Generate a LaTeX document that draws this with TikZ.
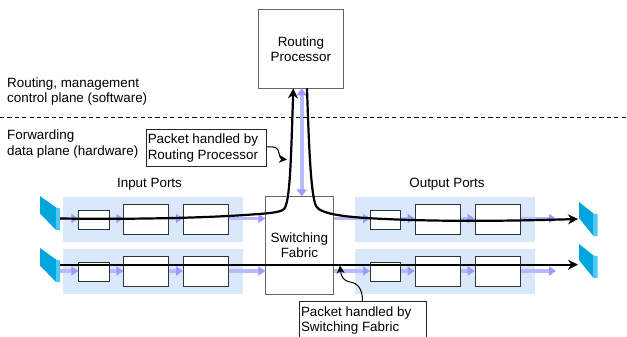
\documentclass[tikz,border=0pt]{standalone}
\usepackage{fontspec}
\setmainfont{Liberation Sans}
\usetikzlibrary{arrows.meta,positioning}
\definecolor{panelblue}{HTML}{DAE8FC}
\definecolor{flowblue}{HTML}{B8BAFF}
\definecolor{flowhead}{HTML}{9A9CFF}
\definecolor{portdark}{HTML}{00A5DE}
\definecolor{portlight}{HTML}{4FC8F5}
\tikzset{
  x=1pt,y=-1pt,
  every node/.style={font=\fontsize{13.4}{15.4}\selectfont,align=center,inner sep=0pt},
  panel/.style={fill=panelblue,draw=none,anchor=north west},
  cell/.style={draw=black!80,line width=0.9pt,fill=white,anchor=north west},
  bigbox/.style={draw=black!60,line width=0.8pt,fill=white,anchor=north west},
  callout/.style={draw=black!85,line width=0.8pt,fill=white,anchor=north west,align=left},
  flow/.style={draw=flowblue,line width=3.4pt,-{Triangle[length=7pt,width=9pt,color=flowhead]}},
  flowboth/.style={draw=flowblue,line width=4.4pt,{Triangle[length=7pt,width=10pt,color=flowhead]}-{Triangle[length=7pt,width=10pt,color=flowhead]}},
  packet/.style={draw=black,line width=2.2pt},
  packethin/.style={draw=black,line width=1.9pt},
  tip/.style={-{Stealth[length=10pt,width=10pt]}},
  lead/.style={draw=black,line width=1pt,-{Stealth[length=8pt,width=8pt]}},
  txt/.style={anchor=west,align=left}
}
\newcommand{\cellbox}[5]{\node[cell,minimum width=#4pt,minimum height=#5pt] (#1) at (#2,#3) {};}
\begin{document}
\begin{tikzpicture}
\useasboundingbox (0,0) rectangle (627,337);
\fill[white] (0,0) rectangle (627,337);
% panels
\node[panel,minimum width=180pt,minimum height=44.7pt] (inA) at (63,197) {};
\node[panel,minimum width=180pt,minimum height=44.7pt] (inB) at (63,249) {};
\node[panel,minimum width=180pt,minimum height=44.7pt] (outA) at (355,197) {};
\node[panel,minimum width=180pt,minimum height=44.7pt] (outB) at (355,249) {};
% main boxes
\node[bigbox,minimum width=84.4pt,minimum height=78.7pt,text width=84pt] (rp) at (258.3,9.3) {Routing\\Processor};
\node[bigbox,minimum width=67.4pt,minimum height=97.4pt,text width=67pt] (sf) at (265.3,196.3) {Switching\\Fabric};
% cells
\cellbox{a1}{78.3}{209.7}{30.4}{19}
\cellbox{a2}{123.3}{203.7}{45}{30}
\cellbox{a3}{183}{203.7}{45.3}{30}
\cellbox{b1}{78.3}{262.3}{30.4}{19}
\cellbox{b2}{123.3}{256.4}{45}{30}
\cellbox{b3}{183}{256.4}{45.3}{30}
\cellbox{c1}{370}{209.7}{30.4}{19}
\cellbox{c2}{414.7}{203.7}{45.3}{30}
\cellbox{c3}{474.7}{203.7}{45.3}{30}
\cellbox{d1}{370}{262.3}{30.4}{19}
\cellbox{d2}{414.7}{256.4}{45.3}{30}
\cellbox{d3}{474.7}{256.4}{45.3}{30}
% ports
\coordinate (pa) at (60,218.5);
\coordinate (pb) at (60,271);
\coordinate (qa) at (578,219);
\coordinate (qb) at (578,264.7);
\coordinate (oa) at (556,218.5);
\coordinate (ob) at (556,271);
\foreach \y in {0,52}{
  \fill[portdark] (40,196+\y) -- (56,207.5+\y) -- (56,230+\y) -- (40,213.5+\y) -- cycle;
  \fill[portlight] (56,207.5+\y) -- (60,208.5+\y) -- (60,230+\y) -- (56,230+\y) -- cycle;
}
\foreach \y in {0,42}{
  \fill[portdark] (579,202+\y) -- (593.5,213.5+\y) -- (593.5,236+\y) -- (579,218+\y) -- cycle;
  \fill[portlight] (593.5,213.5+\y) -- (597.5,214+\y) -- (597.5,236+\y) -- (593.5,236+\y) -- cycle;
}
% flows
\draw[flow] (pa) -- (a1.west |- pa);
\draw[flow] (a1.east |- pa) -- (a2.west |- pa);
\draw[flow] (a2.east |- pa) -- (a3.west |- pa);
\draw[flow] (a3.east |- pa) -- (sf.west |- pa);
\draw[flow] (sf.east |- pa) -- (c1.west |- pa);
\draw[flow] (c1.east |- pa) -- (c2.west |- pa);
\draw[flow] (c2.east |- pa) -- (c3.west |- pa);
\draw[flow] (c3.east |- pa) -- (oa);
\draw[flow] (pb) -- (b1.west |- pb);
\draw[flow] (b1.east |- pb) -- (b2.west |- pb);
\draw[flow] (b2.east |- pb) -- (b3.west |- pb);
\draw[flow] (b3.east |- pb) -- (sf.west |- pb);
\draw[flow] (sf.east |- pb) -- (d1.west |- pb);
\draw[flow] (d1.east |- pb) -- (d2.west |- pb);
\draw[flow] (d2.east |- pb) -- (d3.west |- pb);
\draw[flow] (d3.east |- pb) -- (ob);
\draw[flowboth] (301.7,88.4) -- (301.7,196.3);
% dashed divider
\coordinate (dl) at (0,117.7);
\coordinate (dr) at (627,117.7);
\draw[black,line width=1pt,dash pattern=on 4.2pt off 3.2pt] (dl) -- (dr);
% packet paths
\draw[packet,tip] (pa) .. controls (130,219.5) and (200,218) .. (245,215)
  .. controls (265,213.5) and (280,213) .. (284,209)
  .. controls (290,203) and (291,160) .. (293.3,88.4);
\draw[packet,tip] (307,88.4) .. controls (309,150) and (311,195) .. (316,206)
  .. controls (320,214) and (345,217) .. (375,218.5)
  .. controls (440,222) and (510,221) .. (qa);
\draw[packethin,tip] (60,264.7) -- (qb);
% callouts
\node[callout,minimum width=120pt,minimum height=37pt] (ca) at (145.7,129.3) {};
\node[anchor=west,align=left] (cat) at (147.6,148) {Packet handled by\\Routing Processor};
\node[callout,minimum width=127.6pt,minimum height=50pt] (cb) at (298.7,301) {};
\node[anchor=west,align=left] (cbt) at (300.8,320.5) {Packet handled by\\Switching Fabric};
\coordinate (ta) at (287,159.5);
\coordinate (tb) at (340,265.5);
\draw[lead] (ca.east |- 0,147) .. controls (276,146) and (278,148) .. (279,153) .. controls (280,158) and (281,159) .. (ta);
\draw[lead] (362.3,301) .. controls (363,290) and (358,283) .. (350,282) .. controls (344,281) and (341,277) .. (tb);
% labels
\node[txt] (t1) at (7,84) {Routing, management};
\node[txt] (t2) at (7,99) {control plane (software)};
\node[txt] (t3) at (7,136) {Forwarding};
\node[txt] (t4) at (7,152) {data plane (hardware)};
\node (t5) at (149.5,184.5) {Input Ports};
\node (t6) at (447,184.5) {Output Ports};
\end{tikzpicture}
\end{document}
